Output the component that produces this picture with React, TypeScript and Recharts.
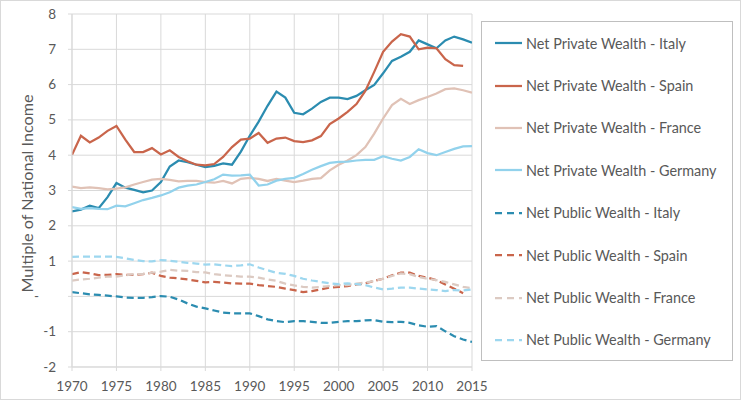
import React from "react";
import { LineChart, Line, XAxis, YAxis, CartesianGrid, Label } from "recharts";

const years = [
  1970, 1971, 1972, 1973, 1974, 1975, 1976, 1977, 1978, 1979,
  1980, 1981, 1982, 1983, 1984, 1985, 1986, 1987, 1988, 1989,
  1990, 1991, 1992, 1993, 1994, 1995, 1996, 1997, 1998, 1999,
  2000, 2001, 2002, 2003, 2004, 2005, 2006, 2007, 2008, 2009,
  2010, 2011, 2012, 2013, 2014, 2015,
];

const italyPrivate = [
  2.41, 2.46, 2.57, 2.5, 2.81, 3.21, 3.08, 3.02, 2.95, 3.0,
  3.24, 3.68, 3.85, 3.8, 3.73, 3.66, 3.7, 3.77, 3.73, 4.1,
  4.55, 4.95, 5.4, 5.8, 5.63, 5.2, 5.16, 5.32, 5.51, 5.63,
  5.63, 5.59, 5.68, 5.84, 5.99, 6.32, 6.67, 6.79, 6.93, 7.25,
  7.14, 7.03, 7.25, 7.36, 7.28, 7.19,
];
const spainPrivate = [
  4.01, 4.55, 4.36, 4.5, 4.69, 4.83, 4.44, 4.09, 4.09, 4.2,
  4.02, 4.14, 3.95, 3.83, 3.73, 3.71, 3.75, 3.95, 4.23, 4.44,
  4.47, 4.63, 4.35, 4.47, 4.5, 4.4, 4.37, 4.42, 4.54, 4.88,
  5.04, 5.23, 5.45, 5.82, 6.36, 6.93, 7.22, 7.43, 7.36, 7.0,
  7.05, 7.03, 6.72, 6.55, 6.53, null,
];
const francePrivate = [
  3.11, 3.07, 3.09, 3.07, 3.03, 3.05, 3.09, 3.17, 3.24, 3.31,
  3.33, 3.3, 3.26, 3.27, 3.27, 3.24, 3.22, 3.27, 3.2, 3.33,
  3.36, 3.33, 3.27, 3.33, 3.28, 3.24, 3.28, 3.33, 3.35, 3.57,
  3.73, 3.85, 4.0, 4.23, 4.61, 5.04, 5.42, 5.6, 5.45, 5.56,
  5.65, 5.75, 5.87, 5.89, 5.84, 5.77,
];
const germanyPrivate = [
  2.53, 2.48, 2.5, 2.48, 2.47, 2.57, 2.55, 2.64, 2.73, 2.79,
  2.86, 2.95, 3.08, 3.14, 3.17, 3.24, 3.32, 3.45, 3.42, 3.43,
  3.45, 3.14, 3.17, 3.28, 3.33, 3.36, 3.47, 3.59, 3.69, 3.78,
  3.81, 3.82, 3.85, 3.87, 3.87, 3.97, 3.9, 3.85, 3.95, 4.17,
  4.06, 4.0, 4.09, 4.18, 4.25, 4.26,
];
const italyPublic = [
  0.12, 0.09, 0.06, 0.04, 0.02, 0.0, -0.03, -0.04, -0.04, -0.02,
  0.01, -0.01, -0.09, -0.2, -0.29, -0.34, -0.4, -0.46, -0.48, -0.48,
  -0.48, -0.56, -0.65, -0.7, -0.73, -0.7, -0.7, -0.72, -0.75, -0.75,
  -0.72, -0.7, -0.7, -0.68, -0.67, -0.72, -0.73, -0.72, -0.75, -0.82,
  -0.86, -0.84, -0.99, -1.13, -1.22, -1.29,
];
const spainPublic = [
  0.63, 0.69, 0.65, 0.6, 0.61, 0.63, 0.61, 0.61, 0.63, 0.67,
  0.58, 0.53, 0.51, 0.48, 0.44, 0.4, 0.41, 0.39, 0.37, 0.36,
  0.36, 0.32, 0.29, 0.27, 0.22, 0.18, 0.12, 0.15, 0.2, 0.25,
  0.27, 0.29, 0.34, 0.37, 0.44, 0.5, 0.6, 0.67, 0.67, 0.58,
  0.53, 0.46, 0.34, 0.22, 0.09, null,
];
const francePublic = [
  0.45, 0.48, 0.5, 0.53, 0.56, 0.56, 0.6, 0.63, 0.64, 0.67,
  0.7, 0.75, 0.73, 0.72, 0.69, 0.68, 0.63, 0.6, 0.58, 0.56,
  0.56, 0.53, 0.48, 0.44, 0.36, 0.31, 0.27, 0.25, 0.27, 0.29,
  0.32, 0.32, 0.36, 0.39, 0.44, 0.5, 0.58, 0.65, 0.63, 0.55,
  0.5, 0.46, 0.41, 0.34, 0.27, 0.23,
];
const germanyPublic = [
  1.12, 1.13, 1.13, 1.13, 1.13, 1.12, 1.08, 1.03, 1.0, 0.99,
  1.03, 1.01, 0.98, 0.95, 0.93, 0.9, 0.91, 0.88, 0.86, 0.88,
  0.91, 0.82, 0.74, 0.67, 0.64, 0.58, 0.5, 0.45, 0.41, 0.37,
  0.35, 0.37, 0.35, 0.32, 0.25, 0.2, 0.22, 0.25, 0.25, 0.22,
  0.2, 0.18, 0.15, 0.18, 0.17, 0.2,
];

const xTicks = [1970, 1975, 1980, 1985, 1990, 1995, 2000, 2005, 2010, 2015];
const yTicks = [-2, -1, 0, 1, 2, 3, 4, 5, 6, 7, 8];

type Series = {
  key: string;
  name: string;
  values: (number | null)[];
  color: string;
  dashed: boolean;
};

const series: Series[] = [
  { key: "itPriv", name: "Net Private Wealth - Italy", values: italyPrivate, color: "#2b8cb0", dashed: false },
  { key: "esPriv", name: "Net Private Wealth - Spain", values: spainPrivate, color: "#c9654b", dashed: false },
  { key: "frPriv", name: "Net Private Wealth - France", values: francePrivate, color: "#e0c2b6", dashed: false },
  { key: "dePriv", name: "Net Private Wealth - Germany", values: germanyPrivate, color: "#92d2ec", dashed: false },
  { key: "itPub", name: "Net Public Wealth - Italy", values: italyPublic, color: "#2b8cb0", dashed: true },
  { key: "esPub", name: "Net Public Wealth - Spain", values: spainPublic, color: "#c9654b", dashed: true },
  { key: "frPub", name: "Net Public Wealth - France", values: francePublic, color: "#dccac2", dashed: true },
  { key: "dePub", name: "Net Public Wealth - Germany", values: germanyPublic, color: "#9dd7ef", dashed: true },
];

const data = years.map((year, i) => {
  const row: Record<string, number | null> = { year };
  series.forEach((s) => {
    row[s.key] = s.values[i] ?? null;
  });
  return row;
});

const FONT = "Lato, 'Open Sans', sans-serif";
const TEXT = "#595959";
const GRID = "#d9d9d9";

const YTick = (props: any) => {
  const { x, y, payload } = props;
  const v = payload.value;
  return (
    <text x={v === 0 ? x - 17 : x} y={y} dy={4.5} textAnchor="end" fill={TEXT} fontSize={13.5} fontFamily={FONT}>
      {v === 0 ? "-" : v}
    </text>
  );
};

const AxisTitle = (props: any) => {
  const { y, height } = props.viewBox;
  const cy = y + height / 2 + 3;
  return (
    <text
      x={26}
      y={cy}
      transform={`rotate(-90 26 ${cy})`}
      textAnchor="middle"
      dominantBaseline="central"
      fill={TEXT}
      fontSize={16.2}
      fontFamily={FONT}
    >
      Multiple of National Income
    </text>
  );
};

function LegendBox() {
  return (
    <div
      style={{
        position: "absolute",
        left: 481,
        top: 21,
        width: 252,
        height: 340,
        boxSizing: "border-box",
        border: "1px solid #bfbfbf",
        fontFamily: FONT,
        fontSize: 14.4,
        color: TEXT,
      }}
    >
      {series.map((s) => (
        <div key={s.key} style={{ height: 42.4, display: "flex", alignItems: "center" }}>
          <svg width={28} height={6} style={{ marginLeft: 13, marginRight: 3 }}>
            <line
              x1={0}
              y1={3}
              x2={27}
              y2={3}
              stroke={s.color}
              strokeWidth={2.25}
              strokeDasharray={s.dashed ? "7 5" : undefined}
            />
          </svg>
          <span>{s.name}</span>
        </div>
      ))}
    </div>
  );
}

export default function App() {
  return (
    <div style={{ position: "relative", width: 741, height: 400, background: "#fff" }}>
      <style>{`body{margin:0}`}</style>
      <LineChart
        width={741}
        height={400}
        data={data}
        margin={{ top: 14, right: 269, bottom: 0, left: 0 }}
        style={{ fontFamily: FONT }}
      >
        <CartesianGrid stroke={GRID} strokeWidth={1} />
        <XAxis
          dataKey="year"
          type="number"
          domain={[1970, 2015]}
          ticks={xTicks}
          height={33}
          stroke={GRID}
          tickSize={4}
          tickMargin={10}
          tick={{ fill: TEXT, fontSize: 13.5, fontFamily: FONT }}
          allowDataOverflow
        />
        <YAxis
          type="number"
          domain={[-2, 8]}
          ticks={yTicks}
          width={72}
          stroke={GRID}
          tickSize={4}
          tickMargin={12}
          tick={<YTick />}
          interval={0}
        >
          <Label content={<AxisTitle />} />
        </YAxis>
        {series.map((s) => (
          <Line
            key={s.key}
            dataKey={s.key}
            name={s.name}
            stroke={s.color}
            strokeWidth={2.25}
            strokeDasharray={s.dashed ? "7 4" : undefined}
            dot={false}
            activeDot={false}
            connectNulls={false}
            isAnimationActive={false}
          />
        ))}
      </LineChart>
      <LegendBox />
      <div
        style={{
          position: "absolute",
          left: 0,
          top: 0,
          width: 741,
          height: 400,
          boxSizing: "border-box",
          border: "1px solid #d9d9d9",
          pointerEvents: "none",
        }}
      />
    </div>
  );
}
